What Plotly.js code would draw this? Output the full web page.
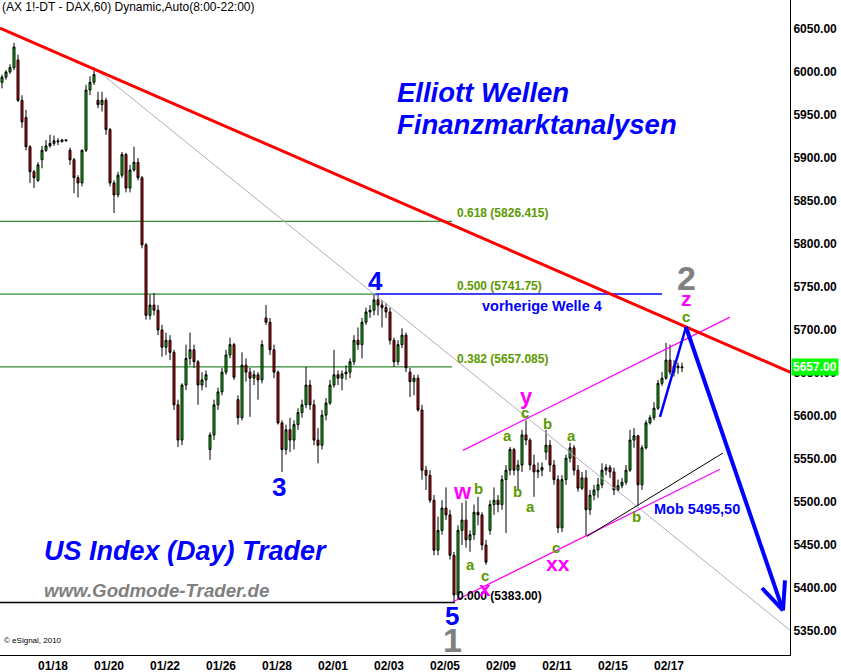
<!DOCTYPE html>
<html>
<head>
<meta charset="utf-8">
<script src="https://cdn.plot.ly/plotly-3.0.1.min.js"></script>
<style>html,body{margin:0;padding:0;background:#fff;}#chart{width:841px;height:672px;}</style>
</head>
<body>
<div id="chart"></div>
<script>
// ---- DATA (2-hour bars, FDAX continuous, 8:00-22:00 sessions) ----
const barOpen = [5988,5994,6000,6005,6014,5967,5947,5913,5884,5874,5898,5909,5914,5917,5920,5919,5921,5909,5898,5877,
5871,5909,5979,5988,5967,5962,5967,5933,5871,5857,5880,5904,5865,5886,5895,5877,5799,5717,5729,5723,
5700,5680,5688,5674,5613,5572,5636,5667,5677,5663,5636,5642,5561,5578,5613,5628,5651,5671,5683,5619,
5598,5659,5651,5644,5648,5642,5714,5709,5677,5651,5592,5561,5584,5572,5590,5604,5613,5636,5613,5572,
5566,5601,5615,5636,5648,5644,5649,5651,5663,5688,5683,5709,5721,5723,5735,5729,5726,5721,5688,5663,
5683,5694,5651,5640,5644,5607,5537,5531,5502,5444,5467,5493,5485,5438,5392,5467,5479,5456,5462,5488,
5485,5450,5467,5497,5502,5497,5526,5537,5561,5537,5543,5578,5572,5543,5535,5537,5558,5566,5543,5526,
5470,5526,5551,5563,5537,5516,5528,5491,5508,5514,5520,5537,5540,5535,5514,5519,5523,5537,5572,5577,
5520,5563,5592,5598,5609,5638,5644,5665,5651,5658,5656];
const barHigh = [5997,6002,6009,6034,6020,5973,5956,5915,5886,5895,5914,5921,5927,5926,5923,5922,5922,5912,5900,5880,
5910,5985,5995,6002,5977,5977,5970,5935,5874,5884,5907,5906,5892,5913,5900,5879,5801,5741,5743,5729,
5706,5697,5694,5677,5619,5638,5683,5697,5683,5665,5651,5653,5581,5619,5633,5656,5677,5691,5685,5624,
5674,5667,5656,5653,5651,5688,5729,5714,5683,5653,5595,5590,5598,5595,5609,5619,5657,5642,5619,5586,
5607,5621,5642,5677,5653,5653,5659,5667,5694,5703,5714,5726,5729,5742,5741,5735,5731,5726,5691,5688,
5702,5697,5656,5648,5648,5613,5542,5537,5508,5483,5502,5517,5491,5442,5473,5499,5502,5467,5497,5506,
5488,5456,5502,5517,5508,5531,5543,5564,5563,5549,5584,5595,5574,5555,5546,5546,5584,5572,5549,5531,
5531,5555,5569,5566,5543,5535,5537,5514,5520,5528,5545,5544,5543,5540,5526,5528,5543,5584,5586,5578,
5566,5595,5601,5616,5642,5651,5685,5683,5665,5662,5662];
const barLow = [5981,5991,5998,6002,5965,5935,5909,5871,5865,5872,5888,5907,5912,5914,5915,5918,5920,5892,5859,5854,
5867,5907,5973,5985,5958,5954,5927,5867,5836,5854,5877,5860,5860,5884,5874,5795,5712,5712,5717,5694,
5669,5671,5665,5607,5564,5566,5630,5659,5656,5613,5630,5633,5549,5572,5607,5624,5648,5667,5642,5590,
5595,5640,5599,5636,5619,5638,5706,5671,5644,5590,5535,5555,5558,5561,5584,5598,5609,5607,5566,5545,
5561,5595,5613,5633,5636,5630,5642,5644,5659,5677,5667,5706,5714,5717,5717,5703,5714,5683,5657,5659,
5679,5651,5622,5624,5605,5526,5514,5499,5438,5438,5462,5479,5433,5383,5386,5450,5447,5442,5456,5473,
5444,5427,5462,5485,5488,5491,5464,5531,5531,5514,5535,5566,5537,5506,5528,5530,5549,5535,5520,5464,
5465,5520,5546,5531,5512,5514,5460,5485,5502,5505,5516,5531,5528,5508,5512,5516,5520,5535,5563,5496,
5514,5561,5590,5595,5607,5635,5642,5648,5646,5649,5651];
const barClose = [5994,6000,6005,6029,5967,5942,5913,5884,5877,5892,5909,5914,5917,5920,5919,5921,5920,5898,5877,5871,
5909,5979,5988,5997,5962,5967,5933,5871,5857,5880,5904,5865,5886,5895,5877,5799,5717,5729,5723,5700,
5680,5688,5674,5613,5572,5636,5667,5677,5663,5636,5642,5648,5578,5613,5628,5651,5671,5683,5645,5598,
5659,5651,5644,5648,5642,5683,5709,5677,5651,5592,5561,5584,5572,5590,5604,5613,5636,5613,5572,5566,
5601,5615,5636,5648,5644,5649,5651,5663,5688,5683,5709,5721,5723,5735,5729,5726,5721,5688,5663,5683,
5694,5656,5640,5644,5607,5537,5531,5502,5444,5467,5493,5485,5438,5392,5467,5479,5456,5462,5488,5485,
5450,5430,5497,5502,5497,5526,5537,5561,5537,5543,5578,5572,5543,5535,5537,5540,5566,5543,5526,5470,
5526,5551,5563,5537,5516,5528,5491,5508,5514,5520,5537,5540,5535,5514,5519,5523,5537,5572,5577,5520,
5563,5592,5598,5609,5638,5644,5665,5651,5658,5656,5657];

// Session date labels (every second trading day) and their bar positions
const dayLabels = ['01/18','01/20','01/22','01/26','01/28','02/01','02/03','02/05','02/09','02/11','02/15','02/17'];
const dayLabelBar = [12.75,26.75,40.75,54.75,68.75,82.75,96.75,110.75,124.75,138.75,152.75,166.75];

const priceTicks = [5350,5400,5450,5500,5550,5600,5650,5700,5750,5800,5850,5900,5950,6000,6050];
const lastPrice = 5657.00;

// Fibonacci retracement levels
const fibRatios = ['0.618','0.500','0.382','0.000'];
const fibPrices = [5826.415, 5741.75, 5657.085, 5383.00];
const mobLevel = '5495,50';

// Analysis lines: [barIndex, price] end points
const redTrend   = [[-0.5, 6051], [197, 5651]];
const greyTrend  = [[22.75, 6006], [197, 5351]];
const pinkUpper  = [[115.25, 5560], [182, 5715]];
const pinkLower  = [[112.75, 5384], [179.5, 5538]];
const blackSupp  = [[146.25, 5460], [180.25, 5557]];
const blueArrow  = [[164.5, 5599], [171, 5703.5], [195.25, 5374]];
const arrowHead  = [[190, 5400], [195.25, 5374], [195.75, 5409]];

// ---- CHART ----
const FONT = 'Arial, "Liberation Sans", sans-serif';
const W = 790, H = 655;              // plot area in px
const px = v => v / W;               // paper helpers for text placement
const py = v => 1 - v / H;

const idx = barOpen.map((_, i) => i);

const traces = [{
  type: 'candlestick', x: idx, open: barOpen, high: barHigh, low: barLow, close: barClose,
  increasing: {line: {color: '#000000', width: 1}, fillcolor: '#00dd00'},
  decreasing: {line: {color: '#000000', width: 1}, fillcolor: '#ee0000'},
  whiskerwidth: 0, hoverinfo: 'skip', showlegend: false
}];

function seg(a, b, color, width, layer) {
  return {type: 'line', xref: 'x', yref: 'y', x0: a[0], y0: a[1], x1: b[0], y1: b[1],
          line: {color: color, width: width}, layer: layer || 'above'};
}

const shapes = [];
const fibEnd = [112.5, 93.25, 112.5, 113.25];
const fibColor = ['#006e00', '#006e00', '#006e00', '#000000'];
fibPrices.forEach((p, k) => shapes.push(seg([-0.5, p], [fibEnd[k], p], fibColor[k], k === 3 ? 1.5 : 1, 'below')));
shapes.push(seg([93.25, fibPrices[1]], [165, fibPrices[1]], '#0000ff', 1.5, 'below'));
shapes.push(seg(greyTrend[0], greyTrend[1], '#b4aac4', 1));
shapes.push(seg(pinkUpper[0], pinkUpper[1], '#ff00ff', 1.2));
shapes.push(seg(pinkLower[0], pinkLower[1], '#ff00ff', 1.2));
shapes.push(seg(blackSupp[0], blackSupp[1], '#000000', 1));
shapes.push(seg(redTrend[0], redTrend[1], '#ff0000', 3));
shapes.push(seg(blueArrow[0], blueArrow[1], '#0000ff', 2.5));
shapes.push(seg(blueArrow[1], blueArrow[2], '#0000ff', 4));
shapes.push(seg(arrowHead[0], arrowHead[1], '#0000ff', 4));
shapes.push(seg(arrowHead[1], arrowHead[2], '#0000ff', 4));

function txt(x, y, text, size, color, opts) {
  opts = opts || {};
  return Object.assign({
    xref: 'paper', yref: 'paper', x: px(x), y: py(y), text: text, showarrow: false,
    xanchor: 'center', yanchor: 'middle',
    font: {family: FONT, size: size, color: color, weight: opts.weight || 'bold', style: opts.style || 'normal'}
  }, opts.extra || {});
}
const GREEN = '#5c9900', MAG = '#ff00ff', BLUE = '#0000ff', GREY = '#808080';
const L = {extra: {xanchor: 'left'}};

const annotations = [
  txt(0, 7, '(AX 1!-DT - DAX,60) Dynamic,Auto(8:00-22:00)', 12, '#000000', {weight: 'normal', extra: {xanchor: 'left'}}),
  txt(395, 92, 'Elliott Wellen', 27.5, BLUE, {style: 'italic', extra: {xanchor: 'left'}}),
  txt(395, 125, 'Finanzmarktanalysen', 27.5, BLUE, {style: 'italic', extra: {xanchor: 'left'}}),
  txt(42, 551, 'US Index (Day) Trader', 27, BLUE, {style: 'italic', extra: {xanchor: 'left'}}),
  txt(42, 590, 'www.Godmode-Trader.de', 18.7, GREY, {style: 'italic', extra: {xanchor: 'left'}}),
  txt(2, 640, '© eSignal, 2010', 8, '#000000', {weight: 'normal', extra: {xanchor: 'left'}}),
  txt(455, 213, fibRatios[0] + ' (' + fibPrices[0].toFixed(3) + ')', 12, GREEN, L),
  txt(455, 286, fibRatios[1] + ' (' + fibPrices[1].toFixed(2) + ')', 12, GREEN, L),
  txt(455, 359, fibRatios[2] + ' (' + fibPrices[2].toFixed(3) + ')', 12, GREEN, L),
  txt(455, 596, fibRatios[3] + ' (' + fibPrices[3].toFixed(2) + ')', 12, '#000000', L),
  txt(480, 306, 'vorherige Welle 4', 14.5, BLUE, L),
  txt(652, 509, 'Mob ' + mobLevel, 14.5, BLUE, L),
  txt(375, 281, '4', 26, BLUE),
  txt(279, 487, '3', 26, BLUE),
  txt(452, 616, '5', 26, BLUE),
  txt(452, 640, '1', 34, GREY),
  txt(686, 278, '2', 34, GREY),
  txt(686, 298, 'z', 21, MAG),
  txt(686, 317, 'c', 15, GREEN),
  txt(526, 396, 'y', 22, MAG),
  txt(525, 412, 'c', 15, GREEN),
  txt(507, 436, 'a', 15, GREEN),
  txt(547, 423, 'b', 15, GREEN),
  txt(571, 435, 'a', 15, GREEN),
  txt(462, 491, 'w', 22, MAG),
  txt(478, 489, 'b', 15, GREEN),
  txt(517, 491, 'b', 15, GREEN),
  txt(530, 506, 'a', 15, GREEN),
  txt(471, 564, 'a', 15, GREEN),
  txt(485, 575, 'c', 15, GREEN),
  txt(485, 588, 'x', 21, MAG),
  txt(556, 547, 'c', 15, GREEN),
  txt(558, 563, 'xx', 21, MAG),
  txt(636, 516, 'b', 15, GREEN),
  {xref: 'paper', yref: 'y', x: 1, y: lastPrice, xanchor: 'left', yanchor: 'middle', showarrow: false,
   text: lastPrice.toFixed(2), bgcolor: '#00ff00', borderpad: 1, xshift: 1,
   font: {family: FONT, size: 12, color: '#ffffff', weight: 'bold'}}
];

const layout = {
  width: 841, height: 672,
  margin: {l: 0, r: 51, t: 0, b: 17, pad: 0},
  paper_bgcolor: '#ffffff', plot_bgcolor: '#ffffff',
  showlegend: false, dragmode: false,
  xaxis: {type: 'linear', range: [-0.5, 197], tickmode: 'array', tickvals: dayLabelBar, ticktext: dayLabels,
          showgrid: false, zeroline: false, showline: true, linecolor: '#000000', linewidth: 1, ticks: '',
          tickfont: {family: FONT, size: 12, color: '#000000', weight: 'bold'},
          rangeslider: {visible: false}, fixedrange: true},
  yaxis: {side: 'right', range: [5322.1, 6083.7], tickmode: 'array', tickvals: priceTicks,
          ticktext: priceTicks.map(v => v.toFixed(2)),
          showgrid: false, zeroline: false, showline: true, linecolor: '#000000', linewidth: 1, ticks: '',
          tickfont: {family: FONT, size: 12, color: '#000000', weight: 'bold'}, fixedrange: true},
  shapes: shapes,
  annotations: annotations
};

Plotly.newPlot('chart', traces, layout, {staticPlot: true, displayModeBar: false});
</script>
</body>
</html>
